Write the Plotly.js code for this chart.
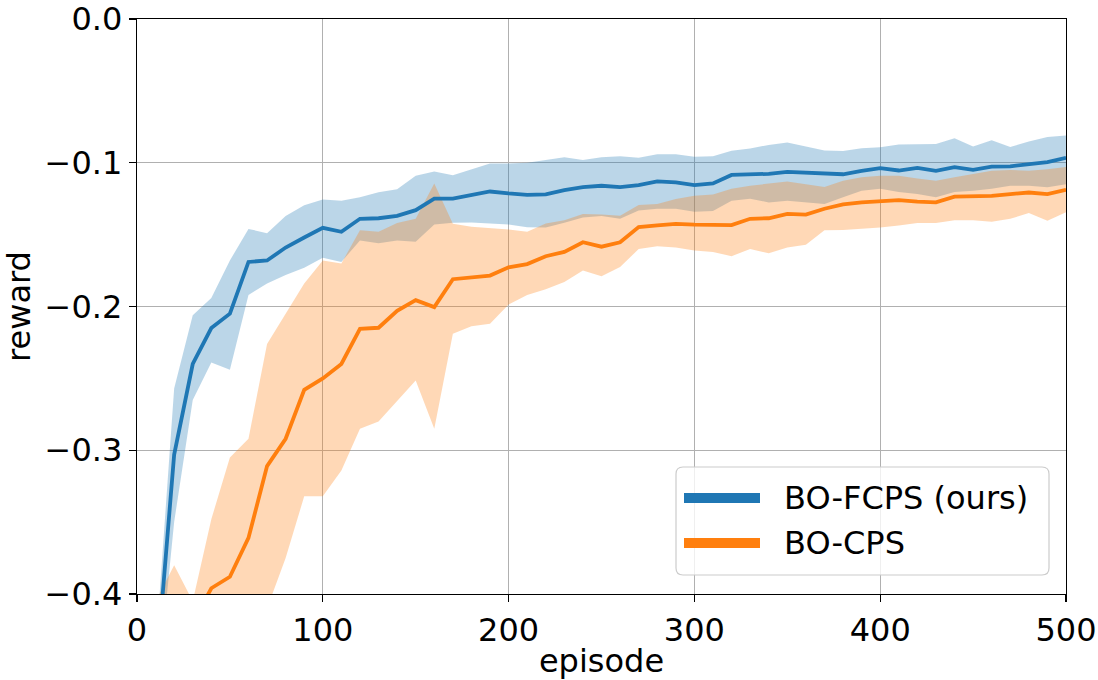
<!DOCTYPE html>
<html>
<head>
<meta charset="utf-8">
<script src="https://cdn.plot.ly/plotly-3.0.1.min.js"></script>
<style>
html,body{margin:0;padding:0;background:#fff;}
#chart{width:1098px;height:680px;}
</style>
</head>
<body>
<div id="chart"></div>
<script>
// Episodes
var episodes = [10,20,30,40,50,60,70,80,90,100,110,120,130,140,150,160,170,180,190,200,210,220,230,240,250,260,270,280,290,300,310,320,330,340,350,360,370,380,390,400,410,420,430,440,450,460,470,480,490,500];

// BO-FCPS (ours): mean, upper, lower
var fcpsMean = [-0.46,-0.303,-0.240,-0.215,-0.205,-0.169,-0.168,-0.159,-0.152,-0.1453,-0.148,-0.139,-0.1386,-0.137,-0.133,-0.125,-0.125,-0.1225,-0.120,-0.1213,-0.1223,-0.122,-0.119,-0.117,-0.116,-0.117,-0.1156,-0.113,-0.1137,-0.1156,-0.1144,-0.1085,-0.108,-0.1077,-0.1064,-0.107,-0.1077,-0.108,-0.1056,-0.1038,-0.1054,-0.1036,-0.1056,-0.103,-0.105,-0.1027,-0.1025,-0.101,-0.0995,-0.0966];
var fcpsUpper = [-0.44,-0.257,-0.206,-0.194,-0.168,-0.146,-0.149,-0.137,-0.1295,-0.1255,-0.1265,-0.124,-0.1205,-0.1185,-0.109,-0.106,-0.1087,-0.1045,-0.1005,-0.1005,-0.100,-0.098,-0.0962,-0.098,-0.0962,-0.0955,-0.0966,-0.094,-0.094,-0.0958,-0.0955,-0.0917,-0.090,-0.0876,-0.086,-0.0887,-0.0914,-0.0918,-0.0899,-0.0893,-0.0873,-0.0871,-0.087,-0.083,-0.0887,-0.0844,-0.089,-0.0853,-0.082,-0.081];
var fcpsLower = [-0.48,-0.35,-0.265,-0.239,-0.244,-0.192,-0.184,-0.178,-0.173,-0.166,-0.169,-0.154,-0.156,-0.154,-0.155,-0.143,-0.1418,-0.1415,-0.1422,-0.143,-0.1448,-0.145,-0.1418,-0.138,-0.137,-0.139,-0.1333,-0.132,-0.132,-0.134,-0.1336,-0.1264,-0.125,-0.1276,-0.1264,-0.1276,-0.1287,-0.124,-0.1195,-0.118,-0.1204,-0.1218,-0.124,-0.1204,-0.1195,-0.118,-0.116,-0.116,-0.117,-0.1149];

// BO-CPS: mean, upper, lower
var cpsMean = [-0.50,-0.47,-0.42,-0.396,-0.388,-0.361,-0.311,-0.292,-0.258,-0.250,-0.240,-0.2155,-0.2148,-0.203,-0.1956,-0.2004,-0.181,-0.1795,-0.1785,-0.1727,-0.1705,-0.165,-0.162,-0.1553,-0.1584,-0.1553,-0.1448,-0.1436,-0.1425,-0.143,-0.143,-0.1434,-0.139,-0.1386,-0.1356,-0.1361,-0.132,-0.129,-0.1276,-0.1269,-0.126,-0.127,-0.1276,-0.1236,-0.1234,-0.123,-0.1218,-0.1207,-0.1218,-0.1188];
var cpsUpper = [-0.405,-0.380,-0.405,-0.348,-0.305,-0.292,-0.226,-0.205,-0.184,-0.168,-0.170,-0.147,-0.148,-0.142,-0.139,-0.1144,-0.1425,-0.1445,-0.1453,-0.1465,-0.148,-0.1423,-0.140,-0.1356,-0.136,-0.1368,-0.1294,-0.1287,-0.1253,-0.123,-0.122,-0.118,-0.116,-0.1144,-0.113,-0.115,-0.1168,-0.1125,-0.110,-0.109,-0.109,-0.111,-0.1125,-0.110,-0.1077,-0.1056,-0.105,-0.1056,-0.1045,-0.103];
var cpsLower = [-0.60,-0.55,-0.50,-0.48,-0.46,-0.44,-0.41,-0.375,-0.332,-0.332,-0.314,-0.285,-0.280,-0.266,-0.2515,-0.285,-0.219,-0.2138,-0.212,-0.1986,-0.192,-0.188,-0.183,-0.175,-0.179,-0.1726,-0.160,-0.158,-0.159,-0.161,-0.162,-0.165,-0.160,-0.163,-0.159,-0.157,-0.147,-0.1467,-0.146,-0.145,-0.1437,-0.142,-0.142,-0.140,-0.140,-0.141,-0.139,-0.135,-0.1403,-0.1345];

var seriesNames = ['BO-FCPS (ours)', 'BO-CPS'];
var xTicks = [0,100,200,300,400,500];
var yTicks = [0,-0.1,-0.2,-0.3,-0.4];
var yTickText = ['0.0','\u22120.1','\u22120.2','\u22120.3','\u22120.4'];

var BLUE = '#1f77b4', ORANGE = '#ff7f0e';
var COLORS = [BLUE, ORANGE];
var FONT = 'DejaVu Sans, sans-serif';
var FS = 32;

var traces = [
  {x: episodes, y: fcpsLower, mode: 'lines', line: {width: 0, color: BLUE}, showlegend: false, hoverinfo: 'skip'},
  {x: episodes, y: fcpsUpper, mode: 'lines', line: {width: 0, color: BLUE}, fill: 'tonexty', fillcolor: 'rgba(31,119,180,0.3)', showlegend: false, hoverinfo: 'skip'},
  {x: episodes, y: cpsLower, mode: 'lines', line: {width: 0, color: ORANGE}, showlegend: false, hoverinfo: 'skip'},
  {x: episodes, y: cpsUpper, mode: 'lines', line: {width: 0, color: ORANGE}, fill: 'tonexty', fillcolor: 'rgba(255,127,14,0.3)', showlegend: false, hoverinfo: 'skip'},
  {x: episodes, y: fcpsMean, mode: 'lines', name: seriesNames[0], line: {width: 3.8, color: BLUE}, showlegend: false},
  {x: episodes, y: cpsMean, mode: 'lines', name: seriesNames[1], line: {width: 3.8, color: ORANGE}, showlegend: false}
];

// Plot area geometry (px)
var L = 137, R = 1066, T = 19, B = 594;
var W = R - L, H = B - T;
function px(v){ return (v - L) / W; }
function py(v){ return (B - v) / H; }

// Legend frame like matplotlib's rounded legend box
var lx0 = px(676), lx1 = px(1049);
var ly0 = py(575), ly1 = py(467);
var rx = 7 / W, ry = 7 / H;
var boxPath = 'M' + (lx0+rx) + ',' + ly1 + ' L' + (lx1-rx) + ',' + ly1 +
  ' Q' + lx1 + ',' + ly1 + ' ' + lx1 + ',' + (ly1-ry) +
  ' L' + lx1 + ',' + (ly0+ry) + ' Q' + lx1 + ',' + ly0 + ' ' + (lx1-rx) + ',' + ly0 +
  ' L' + (lx0+rx) + ',' + ly0 + ' Q' + lx0 + ',' + ly0 + ' ' + lx0 + ',' + (ly0+ry) +
  ' L' + lx0 + ',' + (ly1-ry) + ' Q' + lx0 + ',' + ly1 + ' ' + (lx0+rx) + ',' + ly1 + ' Z';

var legendRowsPx = [498, 543];
var shapes = [{type: 'path', xref: 'paper', yref: 'paper', path: boxPath,
  fillcolor: 'rgba(255,255,255,0.8)', line: {color: '#cccccc', width: 1.2}, layer: 'above'}];
var annotations = [];
seriesNames.forEach(function(name, i){
  var yy = py(legendRowsPx[i]);
  shapes.push({type: 'line', xref: 'paper', yref: 'paper', x0: px(684), x1: px(760), y0: yy, y1: yy,
    line: {color: COLORS[i], width: 10}, layer: 'above'});
  annotations.push({xref: 'paper', yref: 'paper', x: px(782), y: yy, xanchor: 'left', yanchor: 'middle',
    text: name, showarrow: false, font: {family: FONT, size: FS, color: '#000'}});
});

var layout = {
  width: 1098, height: 680,
  margin: {l: L, r: 1098 - R, t: T, b: 680 - B},
  paper_bgcolor: '#fff', plot_bgcolor: '#fff',
  font: {family: FONT, size: FS, color: '#000'},
  showlegend: false,
  shapes: shapes,
  annotations: annotations,
  xaxis: {
    range: [0, 500], tickvals: xTicks, ticktext: xTicks.map(String),
    showgrid: true, gridcolor: '#b0b0b0', gridwidth: 1.3,
    showline: true, linecolor: '#000', linewidth: 1.3, mirror: true,
    ticks: 'outside', ticklen: 7, tickwidth: 1.3, tickcolor: '#000',
    zeroline: false, ticklabeloverflow: 'allow',
    tickfont: {family: FONT, size: FS, color: '#000'},
    title: {text: 'episode', font: {family: FONT, size: FS, color: '#000'}, standoff: 3}
  },
  yaxis: {
    range: [-0.4, 0], tickvals: yTicks, ticktext: yTickText,
    showgrid: true, gridcolor: '#b0b0b0', gridwidth: 1.3,
    showline: true, linecolor: '#000', linewidth: 1.3, mirror: true,
    ticks: 'outside', ticklen: 7, tickwidth: 1.3, tickcolor: '#000',
    zeroline: false, ticklabeloverflow: 'allow',
    tickfont: {family: FONT, size: FS, color: '#000'},
    title: {text: 'reward', font: {family: FONT, size: FS, color: '#000'}, standoff: 10}
  }
};

Plotly.newPlot('chart', traces, layout, {displayModeBar: false, staticPlot: true});
</script>
</body>
</html>
